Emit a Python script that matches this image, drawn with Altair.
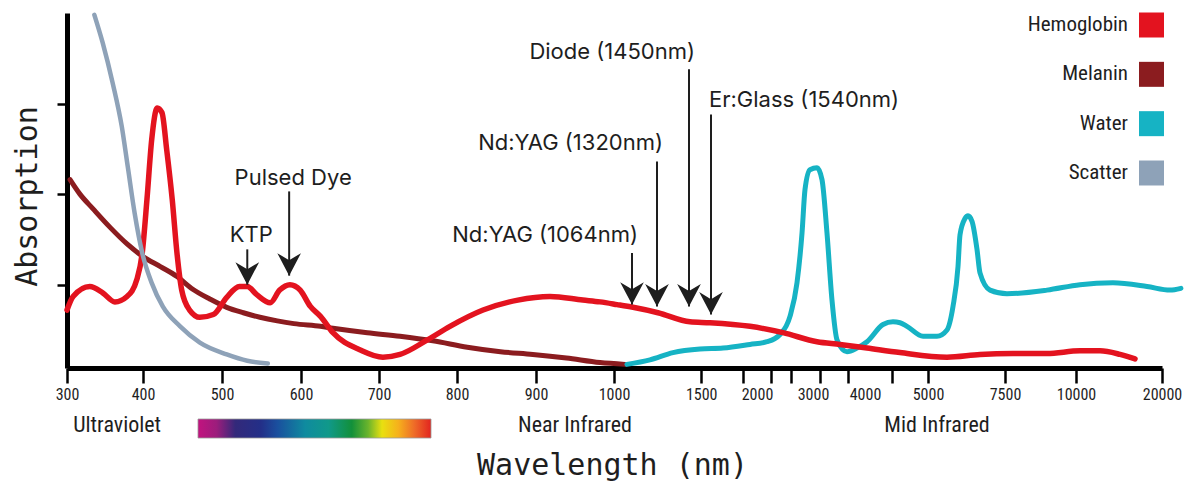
import altair as alt
import pandas as pd

# ---------------- axis definition (hand-drawn, non-uniform wavelength axis) ----------------
scale_nm = [300, 400, 500, 600, 700, 800, 900, 1000, 1064, 1320, 1450, 1540,
            2000, 3000, 4000, 5000, 7500, 10000, 20000]
scale_px = [0, 76, 155, 234, 312, 390, 469, 547, 565, 590, 622, 644,
            690, 746, 798, 861, 938, 1009, 1095]
tick_labeled = [300, 400, 500, 600, 700, 800, 900, 1000, 1500, 2000, 3000, 4000,
                5000, 7500, 10000, 20000]
tick_unlabeled = [1860, 2250, 2607, 3135, 3673, 4429]
label_without_tick = [2000, 3000, 4000]
y_ticks = [1, 2, 3]

# ---------------- series ----------------
series_names = ["Hemoglobin", "Melanin", "Water", "Scatter"]
series_colors = ["#e3131f", "#8b1c1f", "#16b3c4", "#8ea2b8"]

hb_nm = [300, 308, 330, 347, 363, 379, 392, 399, 405, 411, 418, 424, 430, 437, 443, 449,
         459, 472, 489, 506, 522, 532, 544, 561, 573, 586, 599, 612, 625, 641, 676, 705,
         727, 762, 791, 833, 877, 918, 960, 982, 1011, 1074, 1324, 1454, 1536, 1930, 2464,
         3077, 3519, 4032, 4556, 5617, 6688, 7782, 8978, 10465, 12791, 15116, 16860]
hb_abs = [0.72, 0.87, 0.98, 0.91, 0.81, 0.87, 1.06, 1.35, 1.94, 2.60, 2.95, 2.90, 2.49,
          1.94, 1.35, 0.94, 0.72, 0.64, 0.67, 0.86, 0.98, 0.98, 0.89, 0.80, 0.94, 1.00,
          0.94, 0.76, 0.65, 0.47, 0.28, 0.20, 0.23, 0.39, 0.54, 0.72, 0.83, 0.87, 0.83,
          0.81, 0.78, 0.75, 0.69, 0.59, 0.58, 0.54, 0.47, 0.37, 0.34, 0.30, 0.25, 0.20,
          0.23, 0.24, 0.24, 0.27, 0.27, 0.23, 0.18]

mel_nm = [304, 317, 334, 357, 379, 400, 422, 443, 463, 485, 506, 527, 548, 570, 591, 625,
          641, 685, 727, 769, 813, 855, 896, 939, 982, 1039]
mel_abs = [2.16, 2.00, 1.84, 1.63, 1.45, 1.31, 1.20, 1.09, 0.95, 0.84, 0.75, 0.69, 0.64,
           0.60, 0.57, 0.54, 0.52, 0.47, 0.43, 0.38, 0.31, 0.26, 0.23, 0.19, 0.14, 0.12]

water_nm = [1046, 1248, 1385, 1495, 1660, 1930, 2179, 2411, 2589, 2714, 2804, 2857, 2946,
            3077, 3173, 3269, 3365, 3462, 3654, 3846, 4032, 4286, 4444, 4556, 4667, 4921,
            5292, 5617, 5812, 5974, 6039, 6201, 6300, 6429, 6591, 6688, 7013, 7570, 8978,
            10465, 14302, 18256, 20930, 22200]
water_abs = [0.12, 0.17, 0.25, 0.29, 0.30, 0.34, 0.37, 0.45, 0.65, 1.02, 1.57, 2.05, 2.27,
             2.29, 2.16, 1.57, 0.83, 0.39, 0.26, 0.30, 0.37, 0.56, 0.59, 0.58, 0.54, 0.43,
             0.43, 0.50, 0.76, 1.20, 1.55, 1.73, 1.76, 1.70, 1.39, 1.13, 0.94, 0.90, 0.94,
             1.00, 1.02, 0.98, 0.94, 0.96]

scatter_nm = [336, 347, 360, 372, 380, 389, 399, 411, 425, 447, 472, 506, 532, 558]
scatter_abs = [3.98, 3.67, 3.23, 2.75, 2.30, 1.79, 1.35, 1.02, 0.76, 0.54, 0.36, 0.23,
               0.16, 0.13]

# ---------------- laser annotations ----------------
laser_label = ["KTP", "Pulsed Dye", "Nd:YAG (1064nm)", "Nd:YAG (1320nm)",
               "Diode (1450nm)", "Er:Glass (1540nm)"]
laser_nm = [532, 585, 1064, 1320, 1450, 1540]
laser_tip = [1.00, 1.10, 0.78, 0.76, 0.76, 0.67]
laser_top = [1.39, 2.03, 1.35, 2.36, 3.38, 2.88]
laser_label_y = [1.55, 2.18, 1.55, 2.57, 3.57, 3.04]
laser_align = ["center", "center", "right", "right", "right", "left"]

region_label = ["Ultraviolet", "Near Infrared", "Mid Infrared"]
region_nm = [366, 950, 5292]

# ---------------- styling ----------------
COND = "Roboto Condensed, Noto Sans Condensed, Liberation Sans Narrow, DejaVu Sans Condensed, Liberation Sans"
ANNOT = "Inter, Open Sans, sans-serif"
MONO = "DejaVu Sans Mono"
INK = "#1e1e1e"

x_scale = alt.Scale(domain=scale_nm, range=scale_px)
y_scale = alt.Scale(domain=[0.08, 4.0])

tick_all = sorted(tick_labeled + tick_unlabeled)
x_axis = alt.Axis(
    values=tick_all, format="d",
    labelExpr="indexof(%s, datum.value) >= 0 ? '' : datum.label" % str(tick_unlabeled),
    labelOverlap=False, labelFlush=False, labelBound=False,
    tickSize=15, tickWidth=2.5, tickColor="black",
    tickOpacity={"condition": {"test": "indexof(%s, datum.value) >= 0" % str(label_without_tick),
                               "value": 0}, "value": 1},
    labelFont=COND, labelFontSize=16, labelColor=INK, labelPadding=3,
    domainColor="black", domainWidth=5, grid=False,
    title="Wavelength (nm)", titleFont=MONO, titleFontSize=30, titleFontWeight="normal",
    titleColor=INK, titleX=545, titleY=106, titleAlign="center", titleBaseline="alphabetic",
)
y_axis = alt.Axis(
    values=y_ticks, labels=False, tickSize=10, tickWidth=2.5, tickColor="black",
    domainColor="black", domainWidth=5, grid=False,
    title="Absorption", titleFont=MONO, titleFontSize=30, titleFontWeight="normal",
    titleColor=INK, titleX=-31, titleY=183, titleAngle=270, titleAlign="center",
    titleBaseline="alphabetic",
)


def X(field):
    return alt.X(field, scale=x_scale, axis=x_axis)


def Y(field):
    return alt.Y(field, scale=y_scale, axis=y_axis)


def curve(nm, ab, color, width):
    df = pd.DataFrame({"nm": nm, "abs": ab})
    return alt.Chart(df).mark_line(
        color=color, strokeWidth=width, interpolate="monotone",
        strokeCap="round", strokeJoin="round",
    ).encode(x=X("nm:Q"), y=Y("abs:Q"))


mel = curve(mel_nm, mel_abs, series_colors[1], 5)
water = curve(water_nm, water_abs, series_colors[2], 5)
hb = curve(hb_nm, hb_abs, series_colors[0], 5.5)
scat = curve(scatter_nm, scatter_abs, series_colors[3], 4.5)

laser_df = pd.DataFrame({
    "label": laser_label, "nm": laser_nm, "tip": laser_tip, "top": laser_top,
    "ly": laser_label_y, "align": laser_align,
})
shafts = alt.Chart(laser_df).mark_rule(color=INK, strokeWidth=2).encode(
    x=X("nm:Q"), y=Y("top:Q"), y2="tip:Q")
heads = alt.Chart(laser_df).mark_point(
    shape="M0,0 L-1,-1.9 L0,-1.3 L1,-1.9 Z", size=560, filled=True, opacity=1,
    color=INK, strokeWidth=0,
).encode(x=X("nm:Q"), y=Y("tip:Q"))


def laser_text(align, dx):
    return alt.Chart(laser_df).transform_filter(
        alt.datum.align == align
    ).mark_text(align=align, baseline="middle", dx=dx, font=ANNOT, fontSize=22,
                color=INK).encode(x=X("nm:Q"), y=Y("ly:Q"), text="label:N")


txt_c = laser_text("center", 4)
txt_r = laser_text("right", 6)
txt_l = laser_text("left", -2)

region_df = pd.DataFrame({"label": region_label, "nm": region_nm})
regions = alt.Chart(region_df).mark_text(
    baseline="middle", align="center", font=COND, fontSize=22, color=INK
).encode(x=X("nm:Q"), y=alt.value(412), text="label:N")

spectrum = alt.Chart(pd.DataFrame({"k": [0]})).mark_rect(
    fill=alt.LinearGradient(
        gradient="linear", x1=0, x2=1, y1=0, y2=0,
        stops=[
            alt.GradientStop(offset=0.0, color="#c2137f"),
            alt.GradientStop(offset=0.08, color="#9c1d7c"),
            alt.GradientStop(offset=0.16, color="#33297a"),
            alt.GradientStop(offset=0.27, color="#232f88"),
            alt.GradientStop(offset=0.34, color="#1a4f9e"),
            alt.GradientStop(offset=0.46, color="#0f8b9f"),
            alt.GradientStop(offset=0.56, color="#10998a"),
            alt.GradientStop(offset=0.66, color="#12903a"),
            alt.GradientStop(offset=0.73, color="#6ab42c"),
            alt.GradientStop(offset=0.79, color="#e9e010"),
            alt.GradientStop(offset=0.86, color="#f6b01c"),
            alt.GradientStop(offset=0.93, color="#ee6a28"),
            alt.GradientStop(offset=1.0, color="#e2241f"),
        ]),
    stroke="#9a9a9a", strokeWidth=0.8,
).encode(x=alt.value(131), x2=alt.value(364), y=alt.value(406), y2=alt.value(425))

main = alt.layer(mel, water, hb, scat, shafts, heads, txt_c, txt_r, txt_l,
                 regions, spectrum)

# ---------------- legend (label left of swatch) ----------------
legend_df = pd.DataFrame({"series": series_names})
y_leg = alt.Y("series:N", scale=alt.Scale(domain=series_names, range=[12, 160], padding=0),
              axis=None)
col_leg = alt.Color("series:N", scale=alt.Scale(domain=series_names, range=series_colors),
                    legend=None)
leg_sq = alt.Chart(legend_df).mark_square(size=625, opacity=1, filled=True).encode(
    x=alt.value(1084.5), y=y_leg, color=col_leg)
leg_tx = alt.Chart(legend_df).mark_text(
    align="right", baseline="middle", font=COND, fontSize=21, color=INK
).encode(x=alt.value(1061), y=y_leg, text="series:N")
legend = alt.layer(leg_sq, leg_tx)

chart = alt.layer(main, legend).resolve_scale(y="independent").properties(
    width=1095, height=355,
    background="white",
    autosize=alt.AutoSizeParams(type="none"),
    padding={"left": 59, "top": 5, "right": 23, "bottom": 113},
).configure_view(stroke=None)

chart.save("out.html", embed_options={"renderer": "svg", "actions": False})
